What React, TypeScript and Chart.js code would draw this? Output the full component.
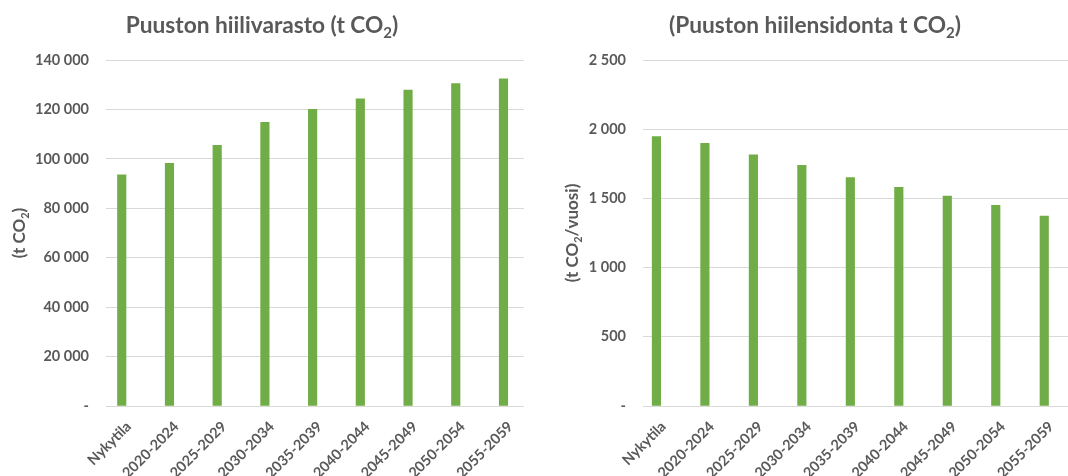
import React, { useEffect, useRef } from 'react';
import { Chart, registerables } from 'chart.js';

Chart.register(...registerables);

// Periods shown on both charts
const categories = [
  'Nykytila',
  '2020-2024',
  '2025-2029',
  '2030-2034',
  '2035-2039',
  '2040-2044',
  '2045-2049',
  '2050-2054',
  '2055-2059',
];

// Carbon stock of the growing stock (t CO2)
const stockValues = [93500, 98200, 105500, 114800, 120000, 124300, 127800, 130500, 132400];

// Annual carbon sequestration (t CO2 / year)
const sequestrationValues = [1946, 1898, 1814, 1739, 1650, 1580, 1517, 1450, 1373];

const stockTickLabels = ['-', '20 000', '40 000', '60 000', '80 000', '100 000', '120 000', '140 000'];
const sequestrationTickLabels = ['-', '500', '1 000', '1 500', '2 000', '2 500'];

type Segment = { t: string; sub?: boolean };

const stockTitle: Segment[] = [{ t: 'Puuston hiilivarasto (t CO' }, { t: '2', sub: true }, { t: ')' }];
const stockAxisTitle: Segment[] = [{ t: '(t CO' }, { t: '2', sub: true }, { t: ')' }];
const sequestrationTitle: Segment[] = [{ t: '(Puuston hiilensidonta t CO' }, { t: '2', sub: true }, { t: ')' }];
const sequestrationAxisTitle: Segment[] = [{ t: '(t CO' }, { t: '2', sub: true }, { t: '/vuosi)' }];

const FONT = 'Lato, "Open Sans", sans-serif';
const TEXT = '#595959';
const BAR = '#70AD47';
const GRID = '#D9D9D9';

function drawRich(
  ctx: CanvasRenderingContext2D,
  segs: Segment[],
  x: number,
  y: number,
  size: number,
  rotate: boolean
) {
  const big = `bold ${size}px ${FONT}`;
  const small = `bold ${Math.round(size * 0.66)}px ${FONT}`;
  ctx.save();
  let total = 0;
  const widths = segs.map((s) => {
    ctx.font = s.sub ? small : big;
    const w = ctx.measureText(s.t).width;
    total += w;
    return w;
  });
  ctx.translate(x, y);
  if (rotate) ctx.rotate(-Math.PI / 2);
  ctx.fillStyle = TEXT;
  ctx.textAlign = 'left';
  ctx.textBaseline = 'alphabetic';
  let cx = -total / 2;
  segs.forEach((s, i) => {
    ctx.font = s.sub ? small : big;
    ctx.fillText(s.t, cx, s.sub ? size * 0.22 : 0);
    cx += widths[i];
  });
  ctx.restore();
}

type PanelProps = {
  left: number;
  width: number;
  values: number[];
  tickLabels: string[];
  step: number;
  xMin: number;
  xMax: number;
  axisWidth: number;
  padRight: number;
  title: Segment[];
  titleX: number;
  axisTitle: Segment[];
  axisTitleX: number;
};

function Panel(p: PanelProps) {
  const ref = useRef<HTMLCanvasElement | null>(null);

  useEffect(() => {
    if (!ref.current) return;
    const textPlugin = {
      id: 'richText',
      afterDraw(chart: Chart) {
        const ctx = chart.ctx;
        drawRich(ctx, p.title, p.titleX, 33, 22.7, false);
        const area = chart.chartArea;
        drawRich(ctx, p.axisTitle, p.axisTitleX + 6, (area.top + area.bottom) / 2, 17, true);
      },
    };

    const chart = new Chart(ref.current, {
      type: 'bar',
      data: {
        datasets: [
          {
            data: p.values.map((v, i) => ({ x: i, y: v })),
            backgroundColor: BAR,
            borderWidth: 0,
            barThickness: 8.5,
          },
        ],
      },
      plugins: [textPlugin],
      options: {
        animation: false,
        responsive: false,
        maintainAspectRatio: false,
        layout: { padding: { top: 60, right: p.padRight, left: 0, bottom: 0 } },
        plugins: {
          legend: { display: false },
          tooltip: { enabled: false },
          title: { display: false },
        },
        scales: {
          x: {
            type: 'linear',
            offset: false,
            min: p.xMin,
            max: p.xMax,
            grid: { display: false, offset: false },
            border: { display: false },
            afterFit: (s: any) => {
              s.height = 70;
            },
            ticks: {
              stepSize: 1,
              includeBounds: false,
              autoSkip: false,
              maxRotation: 45,
              minRotation: 45,
              padding: 4,
              labelOffset: 7,
              color: TEXT,
              font: { family: FONT, size: 14.5, weight: 'bold' },
              callback: (v: any) => (Number.isInteger(v) ? categories[v] ?? '' : ''),
            },
          },
          y: {
            min: 0,
            max: p.step * (p.tickLabels.length - 1),
            grid: { color: GRID, lineWidth: 1, drawTicks: false },
            border: { display: false },
            afterFit: (s: any) => {
              s.width = p.axisWidth;
            },
            ticks: {
              stepSize: p.step,
              padding: 17,
              color: TEXT,
              font: { family: FONT, size: 14.5, weight: 'bold' },
              callback: (_v: any, i: number) => p.tickLabels[i],
            },
          },
        },
      } as any,
    });
    return () => chart.destroy();
  }, []);

  return (
    <canvas
      ref={ref}
      width={p.width}
      height={476}
      style={{ position: 'absolute', left: p.left, top: 0, width: p.width, height: 476 }}
    />
  );
}

export default function App() {
  useEffect(() => {
    document.body.style.margin = '0';
  }, []);
  return (
    <div style={{ position: 'relative', width: 1068, height: 476, background: '#fff', overflow: 'hidden' }}>
      <Panel
        left={0}
        width={540}
        values={stockValues}
        tickLabels={stockTickLabels}
        step={20000}
        xMin={-0.33}
        xMax={8.43}
        axisWidth={106}
        padRight={16}
        title={stockTitle}
        titleX={262}
        axisTitle={stockAxisTitle}
        axisTitleX={19}
      />
      <Panel
        left={540}
        width={528}
        values={sequestrationValues}
        tickLabels={sequestrationTickLabels}
        step={500}
        xMin={-0.277}
        xMax={8.49}
        axisWidth={103}
        padRight={0}
        title={sequestrationTitle}
        titleX={275}
        axisTitle={sequestrationAxisTitle}
        axisTitleX={32}
      />
    </div>
  );
}
